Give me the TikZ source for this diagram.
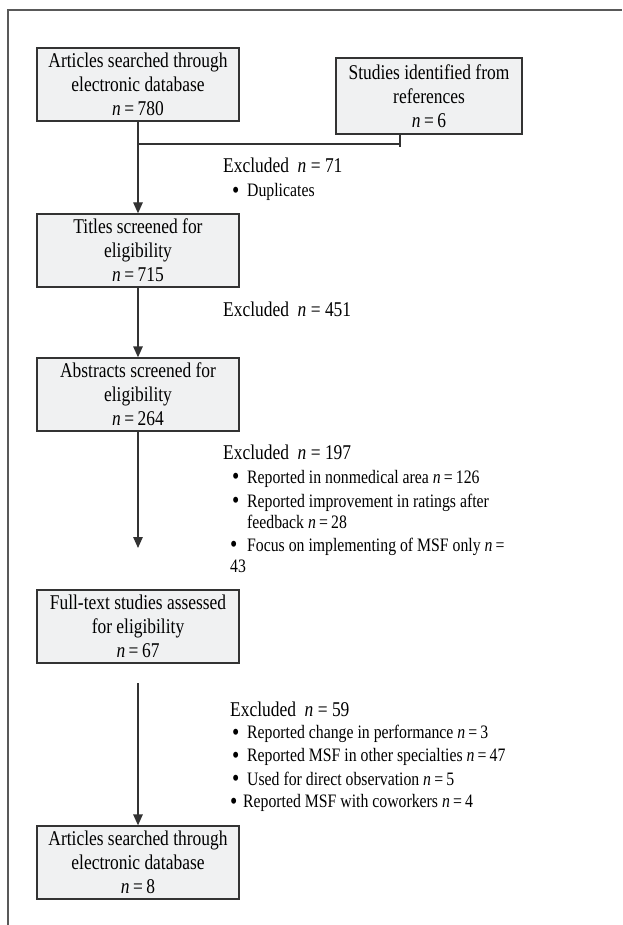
\documentclass[tikz,border=0pt]{standalone}
\usepackage{fontspec}
\setmainfont{Liberation Serif}[FakeStretch=0.83]
\usetikzlibrary{arrows.meta}
\definecolor{boxfill}{HTML}{F0F1F2}
\definecolor{linecol}{HTML}{333333}
\newcommand{\bul}[1]{\makebox[#1][l]{\raisebox{-1.6pt}{\fontsize{25}{22}\selectfont •}}}
\begin{document}
\begin{tikzpicture}[x=1pt,y=-1pt,
  flowbox/.style={draw=linecol, fill=boxfill, line width=1.3pt, rectangle,
    minimum width=202pt, minimum height=73pt, inner sep=0pt, align=center,
    font=\fontsize{21}{24}\selectfont},
  conn/.style={draw=linecol, line width=1.3pt},
  arr/.style={conn, -{Triangle[length=11pt,width=9.5pt]}},
  head/.style={anchor=base west, inner sep=0pt, font=\fontsize{21}{24}\selectfont},
  item/.style={anchor=base west, inner sep=0pt, font=\fontsize{19}{22}\selectfont},
  frameline/.style={draw=black!65, line width=1.2pt}
]
\useasboundingbox (0,0) rectangle (622,925);
\draw[frameline] (8,925) -- (8,10) -- (622,10);

% boxes
\node[flowbox] (b1) at (138,84.5) {Articles searched through\\electronic database\\\textit{n}\,=\,780};
\node[flowbox, minimum width=186pt, minimum height=76pt] (b2) at (429,96) {Studies identified from\\references\\\textit{n}\,=\,6};
\node[flowbox] (b3) at (138,250.5) {Titles screened for\\eligibility\\\textit{n}\,=\,715};
\node[flowbox] (b4) at (138,394.5) {Abstracts screened for\\eligibility\\\textit{n}\,=\,264};
\node[flowbox] (b5) at (138,626.5) {Full-text studies assessed\\for eligibility\\\textit{n}\,=\,67};
\node[flowbox] (b6) at (138,862.5) {Articles searched through\\electronic database\\\textit{n}\,=\,8};

% connectors
\coordinate (m) at (138,144);
\coordinate (t) at (400,144);
\coordinate (ttop) at (400,134);
\coordinate (tbot) at (400,147);
\draw[arr] (b1.south) -- (b3.north);
\draw[conn] (m) -- (t);
\draw[conn] (ttop) -- (tbot);
\draw[arr] (b3.south) -- (b4.north);
\coordinate (e2) at (138,548);
\draw[arr] (b4.south) -- (e2);
\coordinate (s3) at (138,683);
\draw[arr] (s3) -- (b6.north);

% excluded texts
\node[head] (x1) at (223,173) {Excluded\ \ \textit{n} = 71};
\node[item] (x1a) at (232,197) {\bul{15pt}Duplicates};

\node[head] (x2) at (223,316) {Excluded\ \ \textit{n} = 451};

\node[head] (x3) at (223,459) {Excluded\ \ \textit{n} = 197};
\node[item] (x3a) at (232,483) {\bul{15pt}Reported in nonmedical area \textit{n}\,=\,126};
\node[item] (x3b) at (232,507) {\bul{15pt}Reported improvement in ratings after};
\node[item] (x3c) at (247,528.5) {feedback \textit{n}\,=\,28};
\node[item] (x3d) at (230,551) {\bul{17pt}Focus on implementing of MSF only \textit{n}\,=};
\node[item] (x3e) at (230,572) {43};

\node[head] (x4) at (230,716) {Excluded\ \ \textit{n} = 59};
\node[item] (x4a) at (232,738.5) {\bul{15pt}Reported change in performance \textit{n}\,=\,3};
\node[item] (x4b) at (232,761.5) {\bul{15pt}Reported MSF in other specialties \textit{n}\,=\,47};
\node[item] (x4c) at (232,785) {\bul{15pt}Used for direct observation \textit{n}\,=\,5};
\node[item] (x4d) at (230,807.5) {\bul{13pt}Reported MSF with coworkers \textit{n}\,=\,4};
\end{tikzpicture}
\end{document}
